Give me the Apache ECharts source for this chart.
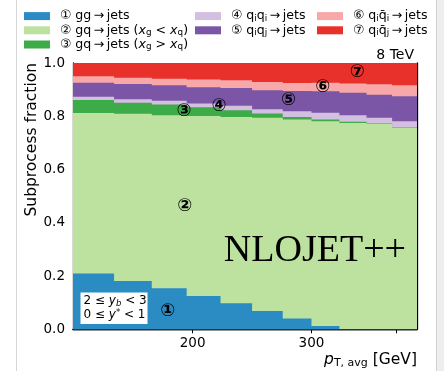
<!DOCTYPE html>
<html>
<head>
<meta charset="utf-8">
<script src="https://cdn.jsdelivr.net/npm/echarts@6/dist/echarts.min.js"></script>
<style>
  html, body { margin: 0; padding: 0; background: #ffffff; }
  #chart { width: 444px; height: 371px; }
</style>
</head>
<body>
<div id="chart"></div>
<script>
// pT,avg bin edges [GeV] for 2 <= yb < 3, 0 <= y* < 1
const binEdges = [133, 153, 174, 196, 220, 245, 272, 300, 330, 362, 395, 430];

// Subprocess fractions per bin (bottom to top of the stack)
const ggJets        = [0.210, 0.181, 0.154, 0.125, 0.098, 0.069, 0.041, 0.012, 0.000, 0.000, 0.000];
const gqJetsLow     = [0.602, 0.628, 0.650, 0.676, 0.699, 0.725, 0.747, 0.769, 0.775, 0.771, 0.758];
const gqJetsHigh    = [0.049, 0.042, 0.040, 0.033, 0.026, 0.016, 0.009, 0.007, 0.004, 0.002, 0.002];
const qiqiJets      = [0.012, 0.013, 0.014, 0.014, 0.016, 0.016, 0.022, 0.025, 0.025, 0.021, 0.021];
const qiqjJets      = [0.053, 0.057, 0.058, 0.061, 0.067, 0.072, 0.076, 0.081, 0.084, 0.087, 0.094];
const qiqbariJets   = [0.024, 0.024, 0.025, 0.029, 0.029, 0.031, 0.030, 0.032, 0.035, 0.039, 0.041];
const qiqbarjJets   = [0.050, 0.055, 0.059, 0.062, 0.065, 0.071, 0.075, 0.074, 0.077, 0.080, 0.084];

// Axis ticks
const xTickValues  = [200, 300, 400];
const xLabelValues = [200, 300];

const ARROW = '\u2009→\u2009';
const processes = [
  { name: 'gg', values: ggJets,      color: '#2b8cc4',
    label: '{n|①} gg' + ARROW + 'jets' },
  { name: 'gqLow', values: gqJetsLow, color: '#bde2a0',
    label: '{n|②} gq' + ARROW + 'jets ({i|x}{s|g} < {i|x}{s|q})' },
  { name: 'gqHigh', values: gqJetsHigh, color: '#3eab49',
    label: '{n|③} gq' + ARROW + 'jets ({i|x}{s|g} > {i|x}{s|q})' },
  { name: 'qiqi', values: qiqiJets,  color: '#d3bfdf',
    label: '{n|④} q{s|i}q{s|i}' + ARROW + 'jets' },
  { name: 'qiqj', values: qiqjJets,  color: '#7b56a6',
    label: '{n|⑤} q{s|i}q{s|j}' + ARROW + 'jets' },
  { name: 'qiqbari', values: qiqbariJets, color: '#f8a8a8',
    label: '{n|⑥} q{s|i}q\u0304{s|i}' + ARROW + 'jets' },
  { name: 'qiqbarj', values: qiqbarjJets, color: '#e9312b',
    label: '{n|⑦} q{s|i}q\u0304{s|j}' + ARROW + 'jets' }
];

// cumulative top of each layer
const cumulative = [];
processes.forEach((p, k) => {
  cumulative.push(p.values.map((v, i) => (k ? cumulative[k - 1][i] : 0) + v));
});

const FONT = 'DejaVu Sans';
const LEG_FS = 12.6;
const richBase = {
  n: { fontFamily: FONT, fontSize: LEG_FS, padding: [0, 0, 0, 5] },
  i: { fontFamily: FONT, fontSize: LEG_FS, fontStyle: 'italic' },
  s: { fontFamily: FONT, fontSize: 8.8, verticalAlign: 'bottom', lineHeight: 11 }
};
const labelOf = {};
processes.forEach(p => { labelOf[p.name] = p.label; });

// each layer is drawn as a step polygon from 0 up to its cumulative top,
// painted top layer first so lower layers overlay it
function layerSeries(k) {
  const p = processes[k];
  const tops = cumulative[k];
  return {
    type: 'custom',
    name: p.name,
    xAxisIndex: 0,
    yAxisIndex: 0,
    clip: true,
    itemStyle: { color: p.color },
    data: [[binEdges[0], 0]],
    renderItem: function (params, api) {
      const pts = [api.coord([binEdges[0], 0])];
      for (let i = 0; i < tops.length; i++) {
        pts.push(api.coord([binEdges[i], tops[i]]));
        pts.push(api.coord([binEdges[i + 1], tops[i]]));
      }
      pts.push(api.coord([binEdges[binEdges.length - 1], 0]));
      return {
        type: 'polygon',
        shape: { points: pts },
        style: { fill: p.color }
      };
    }
  };
}

const series = [];
for (let k = processes.length - 1; k >= 0; k--) series.push(layerSeries(k));

function legendCol(names, left) {
  return {
    orient: 'vertical',
    left: left,
    top: 9,
    padding: 0,
    itemWidth: 26,
    itemHeight: 8,
    itemGap: 0,
    icon: 'rect',
    selectedMode: false,
    data: names,
    formatter: name => labelOf[name],
    textStyle: {
      fontFamily: FONT, fontSize: LEG_FS, color: '#000', lineHeight: 14.2,
      rich: richBase
    }
  };
}

const grid = { left: 73, top: 63, width: 344, height: 266.3 };

const xBase = {
  type: 'log', logBase: 10, min: binEdges[0], max: binEdges[binEdges.length - 1],
  gridIndex: 0,
  splitLine: { show: false },
  axisLine: { show: true, lineStyle: { color: '#000', width: 1.3 } },
  axisTick: { show: true, inside: true, length: 4, customValues: xTickValues,
              lineStyle: { color: '#000', width: 1 } },
  minorTick: { show: false }
};
const yBase = {
  type: 'value', min: 0, max: 1, interval: 0.2,
  splitLine: { show: false },
  axisLine: { show: true, lineStyle: { color: '#000', width: 1.3 } },
  axisTick: { show: true, inside: true, length: 4, lineStyle: { color: '#000', width: 1 } }
};

const option = {
  backgroundColor: '#ffffff',
  animation: false,
  grid: grid,
  legend: [
    legendCol(['gg', 'gqLow', 'gqHigh'], 24),
    legendCol(['qiqi', 'qiqj'], 195),
    legendCol(['qiqbari', 'qiqbarj'], 317)
  ],
  xAxis: [
    Object.assign({}, xBase, {
      position: 'bottom',
      axisLabel: { show: true, customValues: xLabelValues, margin: 7,
                   fontFamily: FONT, fontSize: 13.5, color: '#000' }
    }),
    Object.assign({}, xBase, { position: 'top', axisLabel: { show: false } })
  ],
  yAxis: [
    Object.assign({}, yBase, {
      position: 'left',
      axisLabel: { show: true, margin: 8, fontFamily: FONT, fontSize: 13.5, color: '#000',
                   formatter: v => v.toFixed(1) }
    }),
    Object.assign({}, yBase, { position: 'right', axisLabel: { show: false } })
  ],
  series: series
};

const chart = echarts.init(document.getElementById('chart'), null, { renderer: 'canvas' });
chart.setOption(option);

// Subprocess markers inside the plot, placed in data coordinates
const markers = [
  { text: '①', x: 183.8, y: 0.066 },
  { text: '②', x: 194.8, y: 0.463 },
  { text: '③', x: 194.3, y: 0.819 },
  { text: '④', x: 219.0, y: 0.837 },
  { text: '⑤', x: 277.6, y: 0.859 },
  { text: '⑥', x: 311.9, y: 0.908 },
  { text: '⑦', x: 350.8, y: 0.964 }
];

const graphics = markers.map(m => {
  const p = chart.convertToPixel({ xAxisIndex: 0, yAxisIndex: 0 }, [m.x, m.y]);
  return {
    type: 'text', x: p[0], y: p[1], z: 50,
    style: { text: m.text, align: 'center', verticalAlign: 'middle',
             font: 'bold 18px "DejaVu Sans"', fill: '#000' }
  };
});

graphics.push(
  // page frame
  { type: 'line', shape: { x1: 16.5, y1: 0, x2: 16.5, y2: 371 },
    style: { stroke: '#d6d6d6', lineWidth: 1 }, z: 1 },
  { type: 'rect', shape: { x: 436, y: 0, width: 8, height: 371 },
    style: { fill: '#eeeeee' }, z: 1 },
  { type: 'line', shape: { x1: 436.5, y1: 0, x2: 436.5, y2: 371 },
    style: { stroke: '#d0d0d0', lineWidth: 1 }, z: 1 },
  // centre-of-mass energy
  { type: 'text', x: 414, y: 55, z: 50,
    style: { text: '8 TeV', align: 'right', verticalAlign: 'middle',
             font: '14px "DejaVu Sans"', fill: '#000' } },
  // generator name
  { type: 'text', x: 406, y: 251, z: 50,
    style: { text: 'NLOJET++', align: 'right', verticalAlign: 'middle',
             font: '38px "Liberation Serif"', fill: '#000' } },
  // rapidity bin box
  { type: 'rect', shape: { x: 80.5, y: 292.5, width: 67, height: 31.5 }, z: 50,
    style: { fill: '#ffffff' } },
  { type: 'text', x: 83.5, y: 308, z: 51,
    style: {
      text: '2 ≤ {i|y}{s|b} < 3\n0 ≤ {i|y}{sup|*} < 1',
      align: 'left', verticalAlign: 'middle',
      fontFamily: FONT, fontSize: 12, lineHeight: 13.5, fill: '#000',
      rich: {
        i: { fontFamily: FONT, fontSize: 12, fontStyle: 'italic', lineHeight: 13.5 },
        s: { fontFamily: FONT, fontSize: 8.5, fontStyle: 'italic', verticalAlign: 'bottom', lineHeight: 10 },
        sup: { fontFamily: FONT, fontSize: 8.5, verticalAlign: 'top', lineHeight: 10 }
      }
    } },
  // axis titles
  { type: 'text', x: 31.5, y: 63, rotation: Math.PI / 2, z: 50,
    style: { text: 'Subprocess fraction', align: 'right', verticalAlign: 'middle',
             font: '15.5px "DejaVu Sans"', fill: '#000' } },
  { type: 'text', x: 417, y: 360, z: 50,
    style: {
      text: '{i|p}{s|T, avg} [GeV]', align: 'right', verticalAlign: 'middle',
      fontFamily: FONT, fontSize: 15.5, fill: '#000', lineHeight: 18,
      rich: {
        i: { fontFamily: FONT, fontSize: 15.5, fontStyle: 'italic', lineHeight: 18 },
        s: { fontFamily: FONT, fontSize: 11, verticalAlign: 'bottom', lineHeight: 13 }
      }
    } }
);

chart.setOption({ graphic: graphics });
</script>
</body>
</html>
